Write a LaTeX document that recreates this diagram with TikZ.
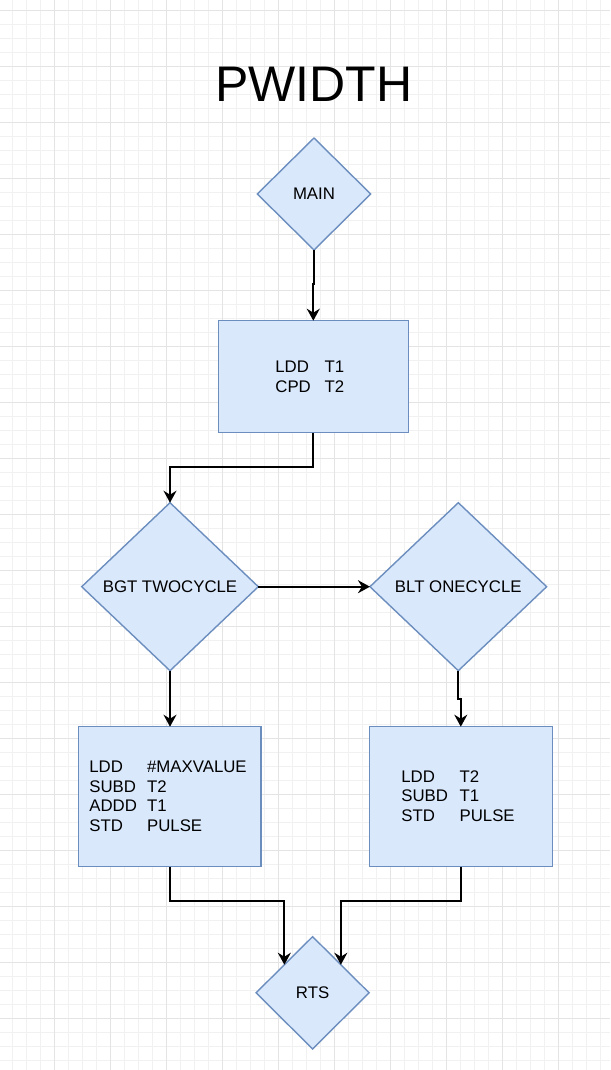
\documentclass[tikz,border=0pt]{standalone}
\usepackage{fontspec}
\setmainfont{Liberation Sans}
\usetikzlibrary{shapes.geometric,arrows.meta}
\definecolor{fillblue}{HTML}{DAE8FC}
\definecolor{strokeblue}{HTML}{6C8EBF}
\definecolor{gridminor}{HTML}{F1F1F1}
\definecolor{gridmajor}{HTML}{E4E4E4}
\tikzset{
  dec/.style={diamond, draw=strokeblue, fill=fillblue, line width=1.4pt, inner sep=0pt, outer sep=0pt, font=\fontsize{16.8}{20}\selectfont},
  procbox/.style={rectangle, draw=strokeblue, fill=fillblue, line width=1.4pt, inner sep=0pt, outer sep=0pt},
  codetext/.style={anchor=base west, inner sep=0pt, outer sep=0pt, font=\fontsize{16.8}{19.6}\selectfont},
  arr/.style={draw=black, line width=2pt, -{Stealth[length=12pt,width=13pt,inset=4pt]}},
}
\begin{document}
\begin{tikzpicture}[x=1pt,y=-1pt]
\useasboundingbox (0,0) rectangle (610,1070);
\fill[white] (0,0) rectangle (610,1070);
\begin{scope}
\clip (0,0) rectangle (610,1070);
\foreach \i in {0,...,44} \draw[gridminor, line width=1pt] (-1.3+14*\i,0) -- (-1.3+14*\i,1070);
\foreach \i in {0,...,77} \draw[gridminor, line width=1pt] (0,-3.3+14*\i) -- (610,-3.3+14*\i);
\foreach \i in {0,...,11} \draw[gridmajor, line width=1.2pt] (-1.3+56*\i,0) -- (-1.3+56*\i,1070);
\foreach \i in {0,...,19} \draw[gridmajor, line width=1.2pt] (0,10.7+56*\i) -- (610,10.7+56*\i);
\end{scope}

\node[anchor=base, inner sep=0pt, font=\fontsize{50}{60}\selectfont] (title) at (313.7,101.7) {PWIDTH};

\node[dec, minimum width=113.4pt, minimum height=112pt] (main) at (314,194) {MAIN};
\node[procbox, minimum width=190pt, minimum height=112pt] (box1) at (313.3,376.7) {};
\node[codetext] (t1) at (275.4,372.7) {\begin{tabular}[t]{@{}p{49.2pt}@{}l@{}}LDD & T1\\ CPD & T2\end{tabular}};

\node[dec, minimum width=176.6pt, minimum height=168pt] (bgt) at (170,586.7) {BGT TWOCYCLE};
\node[dec, minimum width=176.7pt, minimum height=168pt] (blt) at (458.3,586.7) {BLT ONECYCLE};

\node[procbox, minimum width=182.7pt, minimum height=140pt] (box2) at (169.65,796.7) {};
\node[codetext] (t2) at (89.4,772.7) {\begin{tabular}[t]{@{}p{57.7pt}@{}l@{}}LDD & \#MAXVALUE\\ SUBD & T2\\ ADDD & T1\\ STD & PULSE\end{tabular}};

\node[procbox, minimum width=183pt, minimum height=140pt] (box3) at (460.8,796.7) {};
\node[codetext] (t3) at (401.4,782) {\begin{tabular}[t]{@{}p{58.2pt}@{}l@{}}LDD & T2\\ SUBD & T1\\ STD & PULSE\end{tabular}};

\node[dec, minimum width=113pt, minimum height=112.3pt] (rts) at (312.6,992.8) {RTS};

\draw[arr] (main.south) -- (main.south |- 0,284) -| (box1.north);
\draw[arr] (box1.south) -- (box1.south |- 0,466.7) -| (bgt.north);
\draw[arr] (bgt.east) -- (blt.west);
\draw[arr] (bgt.south) -- (bgt.south |- box2.north);
\draw[arr] (blt.south) -- (blt.south |- 0,699) -| (box3.north);
\draw[arr] (box2.south) -- (box2.south |- 0,901) -| (rts.north west);
\draw[arr] (box3.south) -- (box3.south |- 0,901) -| (rts.north east);
\end{tikzpicture}
\end{document}
